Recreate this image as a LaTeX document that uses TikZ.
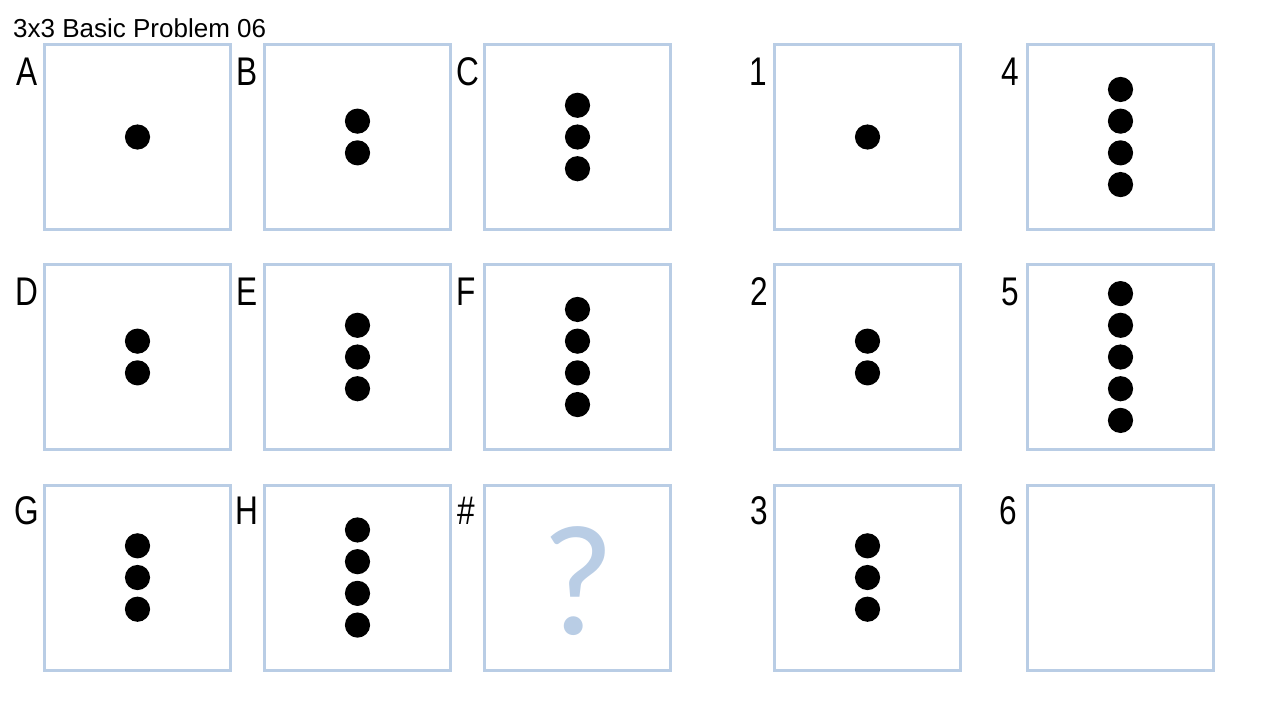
\documentclass[tikz,border=0pt]{standalone}
\usepackage{fontspec}
\setmainfont{Liberation Sans}
\newfontfamily\lblfont[FakeStretch=0.79]{Liberation Sans}
\newfontfamily\qfont{Carlito}
\usetikzlibrary{calc}
\definecolor{boxblue}{HTML}{B9CDE5}
\begin{document}
\begin{tikzpicture}[x=1pt,y=-1pt,
  panel/.style={draw=boxblue,line width=3pt,minimum width=186pt,minimum height=185pt,inner sep=0pt},
  lbl/.style={anchor=base west,inner sep=0pt,font=\lblfont\fontsize{40}{40}\selectfont},
  dotfill/.style={fill=black}]
\useasboundingbox (0,0) rectangle (1280,720);
\node[anchor=base west,inner sep=0pt,font=\fontsize{26}{26}\selectfont] (title) at (13,37) {3x3 Basic Problem 06};
% panels
\node[panel] (A) at (137.5,137) {};
\node[panel] (B) at (357.5,137) {};
\node[panel] (C) at (577.5,137) {};
\node[panel] (D) at (137.5,357) {};
\node[panel] (E) at (357.5,357) {};
\node[panel] (F) at (577.5,357) {};
\node[panel] (G) at (137.5,577.5) {};
\node[panel] (H) at (357.5,577.5) {};
\node[panel] (Q) at (577.5,577.5) {};
\node[panel] (P1) at (867.5,137) {};
\node[panel] (P2) at (867.5,357) {};
\node[panel] (P3) at (867.5,577.5) {};
\node[panel] (P4) at (1120.5,137) {};
\node[panel] (P5) at (1120.5,357) {};
\node[panel] (P6) at (1120.5,577.5) {};
% labels
\node[lbl] (lA) at (16,85) {A};
\node[lbl] (lB) at (236,85) {B};
\node[lbl] (lC) at (456,85) {C};
\node[lbl] (lD) at (15,305) {D};
\node[lbl] (lE) at (236,305) {E};
\node[lbl] (lF) at (456,305) {F};
\node[lbl] (lG) at (14,524) {G};
\node[lbl] (lH) at (235,524) {H};
\node[lbl] (lQ) at (457,524) {\#};
\node[lbl] (l1) at (749,85) {1};
\node[lbl] (l2) at (750,305) {2};
\node[lbl] (l3) at (750,524) {3};
\node[lbl] (l4) at (1001,85) {4};
\node[lbl] (l5) at (1001,305) {5};
\node[lbl] (l6) at (999,524) {6};
% dots: \dotcol{center}{n}
\newcommand{\dotcol}[2]{%
  \foreach \i in {1,...,#2} {
    \fill[dotfill] ($(#1.center)+(0,{(\i-(#2+1)/2)*31.7})$) circle (12.6pt);
  }}
\dotcol{A}{1}
\dotcol{B}{2}
\dotcol{C}{3}
\dotcol{D}{2}
\dotcol{E}{3}
\dotcol{F}{4}
\dotcol{G}{3}
\dotcol{H}{4}
\dotcol{P1}{1}
\dotcol{P2}{2}
\dotcol{P3}{3}
\dotcol{P4}{4}
\dotcol{P5}{5}
\node[text=boxblue,inner sep=0pt,font=\qfont\fontsize{158}{158}\selectfont] (qm) at ($(Q.center)+(1,3.5)$) {?};
\end{tikzpicture}
\end{document}
